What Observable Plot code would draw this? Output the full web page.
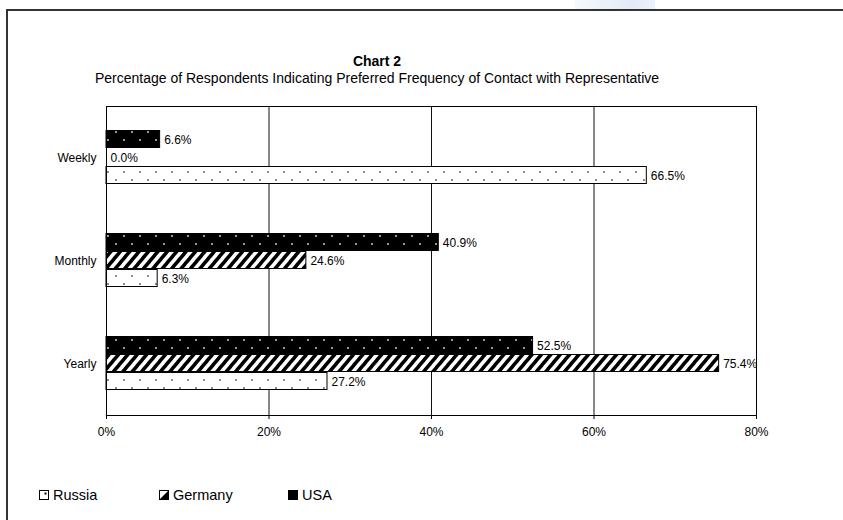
<!DOCTYPE html>
<html>
<head>
<meta charset="utf-8">
<script src="https://cdn.jsdelivr.net/npm/d3@7"></script>
<script src="https://cdn.jsdelivr.net/npm/@observablehq/plot@0.6"></script>
<style>
  html, body { margin: 0; padding: 0; background: #fff; }
  body { width: 843px; height: 520px; position: relative; overflow: hidden; font-family: "Liberation Sans", Arial, sans-serif; color: #000; }
  #border { position: absolute; left: 6px; top: 9px; width: 900px; height: 600px; border-top: 2px solid #333; border-left: 2px solid #333; }
  #smudge { position: absolute; left: 575px; top: 0; width: 80px; height: 9px; background: linear-gradient(90deg, #f6f8fc, #e3ebf7 70%, #eef2fa); }
  #chart { position: absolute; left: 0; top: 0; }
  .title { position: absolute; left: 92px; width: 570px; text-align: center; white-space: nowrap; }
  #t1 { top: 53px; font-size: 14px; font-weight: bold; }
  #t2 { top: 70px; font-size: 14px; }
  .leg { position: absolute; top: 487px; font-size: 14.5px; white-space: nowrap; display: flex; align-items: center; }
  .leg svg { margin-right: 4px; }
</style>
</head>
<body>
<div id="smudge"></div>
<div id="border"></div>
<div id="chart"></div>
<div class="title" id="t1">Chart 2</div>
<div class="title" id="t2">Percentage of Respondents Indicating Preferred Frequency of Contact with Representative</div>
<div class="leg" style="left:39px"><svg width="10" height="10"><rect x="0.5" y="0.5" width="9" height="9" fill="#fff" stroke="#000"/><rect x="5.5" y="2.5" width="2" height="2" fill="#000"/></svg>Russia</div>
<div class="leg" style="left:159px"><svg width="10" height="10"><rect x="0.5" y="0.5" width="9" height="9" fill="#fff" stroke="#000"/><path d="M9.5 0.5 L9.5 9.5 L0.5 9.5 Z" fill="#000"/></svg>Germany</div>
<div class="leg" style="left:288px"><svg width="10" height="10"><rect x="0" y="0" width="10" height="10" fill="#000"/></svg>USA</div>
<script>
const categories = ["Weekly", "Monthly", "Yearly"];
const seriesNames = ["Russia", "Germany", "USA"];
const russia = [66.5, 6.3, 27.2];
const germany = [0.0, 24.6, 75.4];
const usa = [6.6, 40.9, 52.5];
const xTicks = [0, 20, 40, 60, 80];
const xTickLabels = ["0%", "20%", "40%", "60%", "80%"];

const valuesBySeries = {Russia: russia, Germany: germany, USA: usa};
const rows = categories.flatMap((c, i) =>
  seriesNames.map(s => ({category: c, series: s, value: valuesBySeries[s][i]}))
);

// placement of each series within a category band (band = 103px)
const slot = {
  USA:     {insetTop: 24.5, insetBottom: 61.5, dy: -18, fill: "url(#pUSA)"},
  Germany: {insetTop: 42.5, insetBottom: 43.5, dy: 0,   fill: "url(#pGER)"},
  Russia:  {insetTop: 60.5, insetBottom: 25.5, dy: 18,  fill: "url(#pRUS)"}
};

const marks = [Plot.gridX(xTicks, {stroke: "#111", strokeOpacity: 1})];
for (const s of ["USA", "Germany", "Russia"]) {
  const d = rows.filter(r => r.series === s);
  marks.push(Plot.barX(d, {
    x: "value", y: "category",
    insetTop: slot[s].insetTop, insetBottom: slot[s].insetBottom,
    fill: slot[s].fill, stroke: "#000", strokeWidth: 1
  }));
  marks.push(Plot.text(d, {
    x: "value", y: "category", dy: slot[s].dy, dx: 4,
    text: r => r.value.toFixed(1) + "%", textAnchor: "start",
    fontSize: 12, fill: "#000"
  }));
}
marks.push(Plot.frame({stroke: "#000"}));

const svg = Plot.plot({
  width: 843, height: 460,
  marginTop: 106, marginBottom: 45, marginLeft: 106, marginRight: 87,
  style: {fontFamily: "'Liberation Sans', Arial, sans-serif", fontSize: "12px", color: "#000", background: "transparent", overflow: "visible"},
  x: {domain: [0, 80], ticks: xTicks, tickFormat: (d) => xTickLabels[xTicks.indexOf(d)], tickSize: 4, tickPadding: 8, label: null},
  y: {domain: categories, padding: 0, tickSize: 0, tickPadding: 10, label: null},
  marks
});

const defs = d3.select(svg).insert("defs", ":first-child");
const pu = defs.append("pattern").attr("id", "pUSA").attr("patternUnits", "userSpaceOnUse").attr("width", 16).attr("height", 16).attr("y", 3);
pu.append("rect").attr("width", 16).attr("height", 16).attr("fill", "#000");
pu.append("circle").attr("cx", 4).attr("cy", 1).attr("r", 0.9).attr("fill", "#e6e6c8");
pu.append("circle").attr("cx", 12).attr("cy", 9).attr("r", 0.9).attr("fill", "#e6e6c8");
const pr = defs.append("pattern").attr("id", "pRUS").attr("patternUnits", "userSpaceOnUse").attr("width", 16).attr("height", 16).attr("y", 3);
pr.append("rect").attr("width", 16).attr("height", 16).attr("fill", "#fff");
pr.append("circle").attr("cx", 4).attr("cy", 1).attr("r", 0.8).attr("fill", "#000");
pr.append("circle").attr("cx", 12).attr("cy", 9).attr("r", 0.8).attr("fill", "#000");
const pg = defs.append("pattern").attr("id", "pGER").attr("patternUnits", "userSpaceOnUse").attr("width", 7.2).attr("height", 7.2).attr("patternTransform", "rotate(40)");
pg.append("rect").attr("width", 7.2).attr("height", 7.2).attr("fill", "#fff");
pg.append("rect").attr("width", 3.6).attr("height", 7.2).attr("fill", "#000");

document.getElementById("chart").appendChild(svg);
</script>
</body>
</html>
